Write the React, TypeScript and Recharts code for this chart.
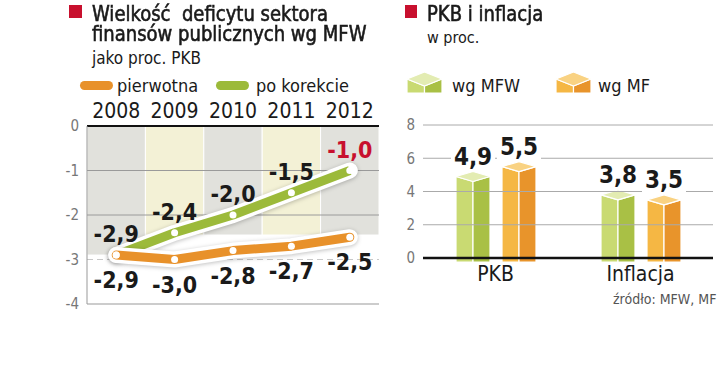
import {
  LineChart, Line, XAxis, YAxis, ReferenceArea, ReferenceLine, LabelList,
  BarChart, Bar,
} from "recharts";

const YEARS = [2008, 2009, 2010, 2011, 2012];
const PIERWOTNA = [-2.9, -3.0, -2.8, -2.7, -2.5];
const PO_KOREKCIE = [-2.9, -2.4, -2.0, -1.5, -1.0];
const BAND_BOTTOM = [-2.9, -2.45, -2.45, -2.45, -2.45];
const DEF_TICKS = [0, -1, -2, -3, -4];

const CATEGORIES = ["PKB", "Inflacja"];
const WG_MFW = [4.9, 3.8];
const WG_MF = [5.5, 3.5];
const BAR_TICKS = [0, 2, 4, 6, 8];

const FONT = "'DejaVu Sans Condensed', 'Liberation Sans Narrow', sans-serif";
const RED = "#c8102e";
const GREEN = "#9cba3a";
const ORANGE = "#e8912a";
const GREY_BAND = "#e1e1dc";
const YELLOW_BAND = "#f3f1d6";

const MFW_FACES = { light: "#c9da72", dark: "#a9c045", top: "#e3ecb2" };
const MF_FACES = { light: "#f5b744", dark: "#e8942b", top: "#f9d282" };

const deficitData = YEARS.map((year, i) => ({
  year,
  pierwotna: PIERWOTNA[i],
  korekta: PO_KOREKCIE[i],
}));

const gdpData = CATEGORIES.map((name, i) => ({ name, mfw: WG_MFW[i], mf: WG_MF[i] }));

const pl = (v: number) => v.toFixed(1).replace(".", ",");

function PointLabel({ x, y, value, index, dy, last }: any) {
  const red = last && index === YEARS.length - 1;
  return (
    <text x={x} y={y + dy} textAnchor="middle" dominantBaseline="central"
      fontFamily={FONT} fontWeight="bold" fontSize={23} fill={red ? RED : "#1a1a1a"}>
      {pl(value)}
    </text>
  );
}

function BarLabel({ x, y, width, value }: any) {
  const s = pl(value);
  return (
    <g>
      <rect x={x + width / 2 - 22} y={y - 33} width={44} height={26} fill="#fff" />
      <text x={x + width / 2} y={y - 20} textAnchor="middle" dominantBaseline="central"
        fontFamily={FONT} fontWeight="bold" fontSize={24} fill="#1a1a1a">{s}</text>
    </g>
  );
}

function Cube({ x, y, width, height, faces, d = 5 }: any) {
  const w = width, mid = x + w / 2, bottom = y + height + 4;
  return (
    <g stroke="#fff" strokeWidth={1.2} strokeLinejoin="round">
      <path d={`M${x},${y} L${mid},${y + d} L${mid},${bottom} L${x},${bottom} Z`} fill={faces.light} />
      <path d={`M${mid},${y + d} L${x + w},${y} L${x + w},${bottom} L${mid},${bottom} Z`} fill={faces.dark} />
      <path d={`M${x},${y} L${mid},${y - d} L${x + w},${y} L${mid},${y + d} Z`} fill={faces.top} />
    </g>
  );
}

function LegendCube({ faces }: { faces: typeof MFW_FACES }) {
  return (
    <svg width={37} height={24} style={{ display: "block" }}>
      <Cube x={1} y={8} width={35} height={10} faces={faces} d={7} />
    </svg>
  );
}

const abs = (left: number, top: number, extra: any = {}) => ({
  position: "absolute" as const, left, top, fontFamily: FONT, whiteSpace: "nowrap" as const, ...extra,
});

const titleStyle = {
  fontSize: 22, lineHeight: "20px", color: "#1a1a1a",
  WebkitTextStroke: "0.6px #1a1a1a", transform: "scaleX(0.91)", transformOrigin: "left top",
};

export default function App() {
  return (
    <div style={{ position: "absolute", left: 0, top: 0, width: 720, height: 373, background: "#fff", overflow: "hidden" }}>
      {/* left header */}
      <div style={{ position: "absolute", left: 69, top: 5, width: 13, height: 13, background: RED }} />
      <div style={abs(92, 4, titleStyle)}>
        Wielkość&nbsp; deficytu sektora<br />finansów publicznych wg MFW
      </div>
      <div style={abs(92, 48, { fontSize: 17, color: "#1a1a1a" })}>jako proc. PKB</div>
      <div style={{ position: "absolute", left: 80, top: 81, width: 33, height: 9, borderRadius: 5, background: ORANGE }} />
      <div style={abs(117, 75, { fontSize: 18, color: "#1a1a1a" })}>pierwotna</div>
      <div style={{ position: "absolute", left: 216, top: 81, width: 33, height: 9, borderRadius: 5, background: GREEN }} />
      <div style={abs(256, 75, { fontSize: 18, color: "#1a1a1a" })}>po korekcie</div>

      {/* right header */}
      <div style={{ position: "absolute", left: 405, top: 5, width: 12, height: 13, background: RED }} />
      <div style={abs(427, 4, titleStyle)}>PKB i inflacja</div>
      <div style={abs(427, 28, { fontSize: 16, color: "#1a1a1a" })}>w proc.</div>
      <div style={{ position: "absolute", left: 406, top: 71 }}><LegendCube faces={MFW_FACES} /></div>
      <div style={abs(452, 75, { fontSize: 18, color: "#1a1a1a" })}>wg MFW</div>
      <div style={{ position: "absolute", left: 555, top: 71 }}><LegendCube faces={MF_FACES} /></div>
      <div style={abs(598, 75, { fontSize: 18, color: "#1a1a1a" })}>wg MF</div>

      <div style={abs(613, 291, { fontSize: 14, color: "#555" })}>źródło: MFW, MF</div>

      {/* deficit line chart */}
      <div style={{ position: "absolute", left: 0, top: 90 }}>
        <LineChart width={390} height={230} data={deficitData}
          margin={{ top: 6, right: 11, left: 47, bottom: 16 }}>
          <XAxis dataKey="year" type="number" orientation="top" domain={[2007.5, 2012.5]}
            ticks={YEARS} tickFormatter={(v: number) => String(v)} allowDataOverflow
            axisLine={{ stroke: "#111", strokeWidth: 2 }} tickLine={false}
            tick={{ fontSize: 21, fill: "#1a1a1a", fontFamily: FONT }} />
          <YAxis type="number" domain={[-4, 0]} ticks={DEF_TICKS} width={40}
            axisLine={{ stroke: "#999" }} tickLine={false}
            tick={{ fontSize: 15, fill: "#777", fontFamily: FONT }} />
          {YEARS.map((yr, i) => (
            <ReferenceArea key={yr} x1={yr - 0.5} x2={yr + 0.5} y1={BAND_BOTTOM[i]} y2={0}
              fill={i % 2 === 0 ? GREY_BAND : YELLOW_BAND} fillOpacity={1}
              stroke="#fff" strokeWidth={1} ifOverflow="hidden" />
          ))}
          <ReferenceLine y={-1} stroke="#9a9a9a" />
          <ReferenceLine y={-2} stroke="#9a9a9a" />
          <ReferenceLine y={-3} stroke="#c8c8c8" strokeDasharray="6 4" />
          <ReferenceLine y={-4} stroke="#999" />
          <Line dataKey="korekta" stroke="#fff" strokeWidth={16} strokeLinecap="round" strokeLinejoin="round"
            dot={false} isAnimationActive={false}
            style={{ filter: "drop-shadow(0 1px 2px rgba(0,0,0,0.25))" }} />
          <Line dataKey="korekta" stroke={GREEN} strokeWidth={9} strokeLinecap="butt" strokeLinejoin="round"
            dot={{ r: 3.5, fill: "#fff", stroke: "none" }} isAnimationActive={false}>
            <LabelList dataKey="korekta" content={(p: any) => <PointLabel {...p} dy={-21} last />} />
          </Line>
          <Line dataKey="pierwotna" stroke="#fff" strokeWidth={16} strokeLinecap="round" strokeLinejoin="round"
            dot={false} isAnimationActive={false}
            style={{ filter: "drop-shadow(0 1px 2px rgba(0,0,0,0.25))" }} />
          <Line dataKey="pierwotna" stroke={ORANGE} strokeWidth={9} strokeLinecap="round" strokeLinejoin="round"
            dot={{ r: 3.5, fill: "#fff", stroke: "none" }} isAnimationActive={false}>
            <LabelList dataKey="pierwotna" content={(p: any) => <PointLabel {...p} dy={25} />} />
          </Line>
        </LineChart>
      </div>

      {/* GDP / inflation bar chart */}
      <div style={{ position: "absolute", left: 390, top: 110 }}>
        <BarChart width={330} height={180} data={gdpData} barSize={34} barGap={12}
          margin={{ top: 15, right: 7, left: 8, bottom: 0 }}>
          {BAR_TICKS.slice(1).map((t) => (
            <ReferenceLine key={t} y={t} stroke="#aaa" />
          ))}
          <XAxis dataKey="name" axisLine={{ stroke: "#111", strokeWidth: 2.5 }} tickLine={false} height={32}
            tick={{ fontSize: 21, fill: "#1a1a1a", fontFamily: FONT }} />
          <YAxis type="number" domain={[0, 8]} ticks={BAR_TICKS} width={25} axisLine={false} tickLine={false}
            tick={{ fontSize: 15, fill: "#777", fontFamily: FONT }} />
          <Bar dataKey="mfw" isAnimationActive={false}
            shape={(p: any) => <Cube {...p} faces={MFW_FACES} />}>
            <LabelList dataKey="mfw" content={(p: any) => <BarLabel {...p} />} />
          </Bar>
          <Bar dataKey="mf" isAnimationActive={false}
            shape={(p: any) => <Cube {...p} faces={MF_FACES} />}>
            <LabelList dataKey="mf" content={(p: any) => <BarLabel {...p} />} />
          </Bar>
        </BarChart>
      </div>
    </div>
  );
}
